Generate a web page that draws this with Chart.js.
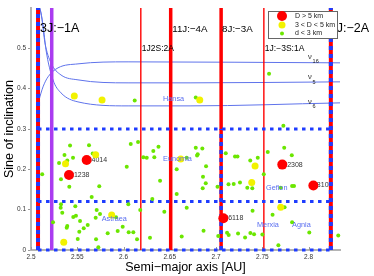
<!DOCTYPE html>
<html>
<head>
<meta charset="utf-8">
<script src="https://cdn.jsdelivr.net/npm/chart.js@4.4.1/dist/chart.umd.min.js"></script>
<style>
html, body { margin: 0; padding: 0; background: #fff; }
</style>
</head>
<body>
<canvas id="chart" width="374" height="276"></canvas>
<script>
// axis ticks
var xTicks = [2.5, 2.55, 2.6, 2.65, 2.7, 2.75, 2.8];
var yTicks = [0, 0.1, 0.2, 0.3, 0.4, 0.5];

// D > 5 km
var bigA = [2.5602, 2.5411, 2.7716, 2.7079, 2.8052];
var bigI = [0.2233, 0.1861, 0.2117, 0.0787, 0.160];
var bigName = ['24014', '21238', '22308', '36118', '8102'];

// 3 < D < 5 km
var midA = [2.5468, 2.5768, 2.6824, 2.5373, 2.5699, 2.6618, 2.7422, 2.7386, 2.7699, 2.5872, 2.5354];
var midI = [0.3821, 0.3722, 0.3722, 0.2141, 0.2362, 0.2258, 0.2084, 0.1675, 0.1062, 0.0868, 0.0191];

// d < 3 km
var smallA = [2.6121, 2.6781, 2.7573, 2.7728,
  2.5422, 2.5627, 2.6078, 2.6157, 2.5362, 2.5454, 2.5392, 2.5303, 2.5667, 2.5121,
  2.6035, 2.5324, 2.6214, 2.6251, 2.6322, 2.6378, 2.6333, 2.6683, 2.6575, 2.6395,
  2.5414, 2.5738, 2.6781, 2.6852, 2.6802, 2.6795, 2.6892,
  2.7105, 2.7205, 2.7232, 2.7370, 2.7451, 2.7559, 2.7737, 2.7819, 2.7516, 2.6859,
  2.6856, 2.6889, 2.7016, 2.7135, 2.7191, 2.7259, 2.7338, 2.7392, 2.7699, 2.7822, 2.7843,
  2.6575, 2.6311, 2.6683,
  2.5324, 2.5321, 2.5656, 2.5479, 2.5338, 2.5710, 2.5746, 2.5699, 2.5457, 2.5486,
  2.5530, 2.5919, 2.6052, 2.5392, 2.5386, 2.5613, 2.5570, 2.5522, 2.5991, 2.5937,
  2.5829, 2.6056, 2.6106, 2.6146, 2.5505, 2.5703, 2.5728, 2.5238, 2.6181, 2.6441,
  2.6286, 2.6629,
  2.6865, 2.7119, 2.7137, 2.7024, 2.7238, 2.7314, 2.7371, 2.7411, 2.7501, 2.7674,
  2.7741, 2.7395, 2.7611, 2.7822, 2.8008, 2.8321];
var smallI = [0.3705, 0.3779, 0.4367, 0.3082,
  0.2588, 0.2598, 0.2630, 0.2680, 0.2357, 0.2290, 0.2216, 0.2159, 0.2395, 0.1878,
  0.2067, 0.1754, 0.2300, 0.2290, 0.2457, 0.2563, 0.2300, 0.2290, 0.2005, 0.1720,
  0.1571, 0.1581, 0.2538, 0.2519, 0.2375, 0.2340, 0.2077,
  0.2400, 0.2320, 0.2320, 0.2221, 0.2290, 0.2427, 0.2538, 0.2350, 0.1878, 0.1816,
  0.1531, 0.1655, 0.1571, 0.1630, 0.1638, 0.1675, 0.1546, 0.1531, 0.1546, 0.1588, 0.1588,
  0.1390, 0.1266, 0.1050,
  0.1134, 0.1050, 0.1315, 0.1084, 0.0926, 0.0993, 0.0893, 0.0801, 0.0819, 0.0851,
  0.0720, 0.0811, 0.1134, 0.0596, 0.0553, 0.0620, 0.0538, 0.0454, 0.0578, 0.0471,
  0.0414, 0.0439, 0.0439, 0.0266, 0.0273, 0.0266, 0.0067, 0.0687, 0.0993, 0.0950,
  0.0305, 0.0335,
  0.0476, 0.0429, 0.0372, 0.0347, 0.0409, 0.0310, 0.0422, 0.0390, 0.0385, 0.0117,
  0.1060, 0.0973, 0.0876, 0.0687, 0.0434, 0.0360];

// mean motion resonances
var resA = [2.5076, 2.5224, 2.6187, 2.6510, 2.7055, 2.7517, 2.8241];
var resName = ['3J:\u22121A', '', '1J2S:2A', '11J:\u22124A', '8J:\u22123A', '1J:\u22123S:1A', 'J:\u22122A'];
var resTop = 0.6;
// blue dashed part of the line goes up to this sin(i) (null = none)
var resBlueTop = [0.6, null, null, null, 0.3, null, 0.6];
// region borders
var boxLevels = [0, 0.12, 0.3];

// secular resonances
var nu16A = [2.5086, 2.5130, 2.5184, 2.5292, 2.5508, 2.6049, 2.8340];
var nu16I = [0.3722, 0.4045, 0.4293, 0.4516, 0.4615, 0.4665, 0.4640];
var nu5A = [2.5086, 2.5108, 2.5151, 2.5216, 2.5324, 2.5508, 2.6049, 2.6719, 2.8340];
var nu5I = [0.600, 0.588, 0.5136, 0.464, 0.434, 0.4218, 0.4144, 0.4144, 0.4169];
var nu6A = [2.5097, 2.5130, 2.5162, 2.5238, 2.5324, 2.5508, 2.6049, 2.6719, 2.8340];
var nu6I = [0.600, 0.558, 0.4963, 0.4218, 0.3896, 0.3672, 0.3573, 0.3573, 0.3648];
var nuName = ['16', '5', '6'];
var nuLabelA = [2.7995, 2.7995, 2.7995];
var nuLabelI = [0.4797, 0.4288, 0.3672];

// families
var famName = ['Hansa', 'Eunomia', 'Gefion', 'Astraea', 'Merxia', 'Agnia'];
var famA = [2.6427, 2.6427, 2.7540, 2.5764, 2.7443, 2.7822];
var famI = [0.3747, 0.2258, 0.1538, 0.0769, 0.062, 0.062];

var legendText = ['D > 5 km', '3 < D < 5 km', 'd < 3 km'];

var FONT = '"Liberation Sans", Arial, sans-serif';
var RED = '#ff0000', BLUE = '#1e3cff', PURPLE = '#aa3cf0', CURVE = 'rgb(95,115,235)';
var YEL = '#f2f200', GRN = '#6be600';

function pts(a, v) {
  return a.map(function (x, i) { return { x: x, y: v[i] }; });
}

var datasets = [];
function addLine(data, color, width, dash, smooth) {
  datasets.push({
    type: 'line', data: data, borderColor: color, borderWidth: width,
    borderDash: dash || [], pointRadius: 0, fill: false, clip: false,
    cubicInterpolationMode: smooth ? 'monotone' : 'default', tension: 0
  });
}
function addDots(a, v, color, r) {
  datasets.push({
    type: 'scatter', data: pts(a, v), backgroundColor: color, borderWidth: 0,
    pointRadius: r, pointHoverRadius: r, clip: false
  });
}

// curves
addLine(pts(nu16A, nu16I), CURVE, 1, null, true);
addLine(pts(nu5A, nu5I), CURVE, 1, null, true);
addLine(pts(nu6A, nu6I), CURVE, 1, null, true);

// vertical resonance lines
var resWidth = [4, 3.5, 1.4, 3.5, 3.5, 1.4, 4];
for (var i = 0; i < resA.length; i++) {
  addLine([{ x: resA[i], y: 0 }, { x: resA[i], y: resTop }], i === 1 ? PURPLE : RED, resWidth[i]);
}
for (var i = 0; i < resA.length; i++) {
  if (resBlueTop[i] === null) continue;
  addLine([{ x: resA[i], y: 0 }, { x: resA[i], y: resBlueTop[i] }], BLUE, resWidth[i], [4, 4]);
}
// horizontal dashed borders
boxLevels.forEach(function (lv) {
  addLine([{ x: resA[0], y: lv }, { x: resA[resA.length - 1], y: lv }], BLUE, 3, [3.5, 4.5]);
});

addDots(smallA, smallI, GRN, 2);
addDots(midA, midI, YEL, 3.5);
addDots(bigA, bigI, RED, 5);

// later datasets on top
datasets.forEach(function (d, i) { d.order = -i; });

var overlay = {
  id: 'overlay',
  beforeDatasetsDraw: function (chart) {
    var ctx = chart.ctx, sx = chart.scales.x, sy = chart.scales.y;
    ctx.save();
    // small inner ticks on x axis
    ctx.strokeStyle = '#999';
    ctx.lineWidth = 1;
    xTicks.forEach(function (v) {
      var px = Math.round(sx.getPixelForValue(v)) + 0.5;
      ctx.beginPath();
      ctx.moveTo(px, chart.chartArea.bottom);
      ctx.lineTo(px, chart.chartArea.bottom - 3);
      ctx.stroke();
    });
    // asteroid numbers, partly hidden under the dots
    ctx.font = '7px ' + FONT;
    ctx.fillStyle = '#333';
    ctx.textBaseline = 'middle';
    var nameDx = [1, 1, 1, 1, 3.5];
    for (var i = 0; i < bigName.length; i++) {
      ctx.fillText(bigName[i], sx.getPixelForValue(bigA[i]) + nameDx[i], sy.getPixelForValue(bigI[i]));
    }
    ctx.restore();
  },
  afterDatasetsDraw: function (chart) {
    var ctx = chart.ctx, sx = chart.scales.x, sy = chart.scales.y, ca = chart.chartArea;
    ctx.save();
    ctx.textBaseline = 'middle';

    // family names
    ctx.font = '7.3px ' + FONT;
    ctx.fillStyle = 'rgb(90,110,240)';
    for (var i = 0; i < famName.length; i++) {
      ctx.fillText(famName[i], sx.getPixelForValue(famA[i]), sy.getPixelForValue(famI[i]));
    }

    // resonance names
    ctx.fillStyle = '#000';
    var resDx = [2, 0, 1, 1.5, 1, 1, 6];
    var resSize = [12.5, 0, 8.5, 9.75, 9.75, 8.5, 12.5];
    var resRow = [0.548, 0, 0.5004, 0.548, 0.548, 0.5004, 0.548];
    for (var i = 0; i < resA.length; i++) {
      if (!resName[i]) continue;
      ctx.font = resSize[i] + 'px ' + FONT;
      ctx.fillText(resName[i], sx.getPixelForValue(resA[i]) + resDx[i], sy.getPixelForValue(resRow[i]));
    }

    // nu labels
    ctx.fillStyle = '#222';
    for (var i = 0; i < nuName.length; i++) {
      var px = sx.getPixelForValue(nuLabelA[i]), py = sy.getPixelForValue(nuLabelI[i]);
      ctx.font = '7.5px ' + FONT;
      ctx.fillText('\u03bd', px, py);
      ctx.font = '5.5px ' + FONT;
      ctx.fillText(nuName[i], px + 4.5, py + 5);
    }

    // legend
    var bx = ca.right - 72, by = ca.top + 3, bw = 69, bh = 27;
    ctx.fillStyle = '#fff';
    ctx.fillRect(bx, by, bw, bh);
    ctx.strokeStyle = '#666';
    ctx.lineWidth = 1;
    ctx.strokeRect(bx + 0.5, by + 0.5, bw, bh);
    var rowY = [5, 14, 22.5], rowC = [RED, YEL, GRN], rowR = [5, 3.5, 2];
    ctx.font = '7px ' + FONT;
    for (var i = 0; i < 3; i++) {
      ctx.fillStyle = rowC[i];
      ctx.beginPath();
      ctx.arc(bx + 14, by + rowY[i], rowR[i], 0, Math.PI * 2);
      ctx.fill();
      ctx.fillStyle = '#222';
      ctx.fillText(legendText[i], bx + 27, by + rowY[i]);
    }
    ctx.restore();
  }
};

new Chart(document.getElementById('chart'), {
  type: 'scatter',
  data: { datasets: datasets },
  options: {
    responsive: false,
    animation: false,
    devicePixelRatio: 1,
    layout: { padding: { top: 8, right: 34, left: 0, bottom: 0 } },
    plugins: { legend: { display: false }, tooltip: { enabled: false } },
    events: [],
    scales: {
      x: {
        type: 'linear', min: 2.5, max: 2.834,
        afterBuildTicks: function (s) { s.ticks = xTicks.map(function (v) { return { value: v }; }); },
        afterFit: function (s) { s.height = 26; },
        grid: { display: false, drawTicks: false },
        border: { display: true, color: '#b4b4b4', width: 2 },
        ticks: {
          padding: 3, color: '#333', maxRotation: 0, autoSkip: false,
          font: { family: FONT, size: 6.5 },
          callback: function (v) { return String(v); }
        },
        title: {
          display: true, text: 'Semi\u2212major axis [AU]', color: '#000',
          font: { family: FONT, size: 12.5 }, padding: { top: 0, bottom: 0.5 }
        }
      },
      y: {
        type: 'linear', min: 0, max: 0.6,
        afterBuildTicks: function (s) { s.ticks = yTicks.map(function (v) { return { value: v }; }); },
        afterFit: function (s) { s.width = 31; },
        grid: { drawOnChartArea: false, drawTicks: true, tickLength: 3, color: '#999' },
        border: { display: true, color: '#b4b4b4', width: 2 },
        ticks: {
          padding: 2, color: '#333',
          font: { family: FONT, size: 6.5 },
          callback: function (v) { return String(v); }
        },
        title: {
          display: true, text: 'Sine of inclination', color: '#000',
          font: { family: FONT, size: 12.5 }, padding: { top: 2.5, bottom: 0 }
        }
      }
    }
  },
  plugins: [overlay]
});
</script>
</body>
</html>
